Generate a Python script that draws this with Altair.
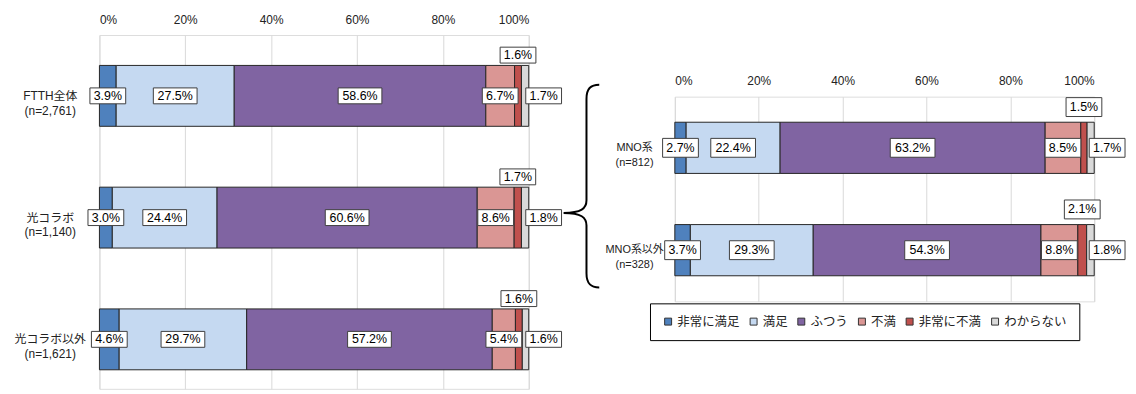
import altair as alt
import pandas as pd

FONT = "Liberation Sans, Noto Sans CJK JP"

levels = ["非常に満足", "満足", "ふつう", "不満", "非常に不満", "わからない"]
colors = ["#4F81BD", "#C5D9F1", "#8064A2", "#DA9694", "#C0504D", "#D9D9D9"]
label_pos = ["in", "in", "in", "in", "above", "right"]

left_groups = ["FTTH全体|(n=2,761)", "光コラボ|(n=1,140)", "光コラボ以外|(n=1,621)"]
left_values = [
    [3.9, 27.5, 58.6, 6.7, 1.6, 1.7],
    [3.0, 24.4, 60.6, 8.6, 1.7, 1.8],
    [4.6, 29.7, 57.2, 5.4, 1.6, 1.6],
]
right_groups = ["MNO系|(n=812)", "MNO系以外|(n=328)"]
right_values = [
    [2.7, 22.4, 63.2, 8.5, 1.5, 1.7],
    [3.7, 29.3, 54.3, 8.8, 2.1, 1.8],
]
tick_values = [0, 20, 40, 60, 80, 100]

BRACE = ("M0.176,-1 C0.09,-1 0.05,-0.96 0.05,-0.86 L0.05,0.14 "
         "C0.05,0.22 0.0,0.265 -0.176,0.265 C0.0,0.265 0.05,0.31 0.05,0.39 "
         "L0.05,0.86 C0.05,0.96 0.09,1 0.176,1")


def build(groups, values):
    rows = []
    for g, vals in zip(groups, values):
        cum = 0.0
        for i, (lvl, v) in enumerate(zip(levels, vals)):
            lab = f"{v:.1f}%"
            rows.append(dict(group=g, level=lvl, value=v, start=cum, end=cum + v,
                             mid=cum + v / 2, label=lab, nchar=len(lab),
                             pos=label_pos[i]))
            cum += v
    return pd.DataFrame(rows)


def rect_path(w, h):
    r = round(h / w, 4)
    return f"M-1,-{r}L1,-{r}L1,{r}L-1,{r}Z"


def panel(groups, values, width, height, yscale, cat_pad, cat_size, box_h,
          box_w4, box_w5, right_dx, legend=None, extra=None):
    df = build(groups, values)
    xscale = alt.Scale(domain=[0, 100], clamp=True, nice=False)
    xaxis = alt.Axis(orient="top", values=tick_values, labelExpr="datum.value + '%'",
                     grid=True, gridColor="#d9d9d9", gridWidth=1, domain=False,
                     ticks=False, labelFontSize=12, labelColor="#222",
                     labelPadding=9, labelFont=FONT)
    yaxis = alt.Axis(labelExpr="split(datum.label, '|')", labelAlign="center",
                     labelBaseline="middle", labelPadding=cat_pad, ticks=False,
                     tickSize=0, domain=False, grid=False, labelFontSize=cat_size,
                     labelLineHeight=15, labelColor="#222", labelLimit=300,
                     labelFont=FONT)
    y = alt.Y("group:N", sort=groups, scale=yscale, axis=yaxis, title=None)
    base = alt.Chart(df)
    color_kw = dict(scale=alt.Scale(domain=levels, range=colors), title=None)
    if legend is None:
        color = alt.Color("level:N", legend=None, **color_kw)
    else:
        color = alt.Color("level:N", legend=legend, **color_kw)
    bars = base.mark_bar(stroke="#262626", strokeWidth=1).encode(
        x=alt.X("start:Q", scale=xscale, axis=xaxis, title=None),
        x2="end:Q",
        y=y,
        color=color,
    )
    layers = [bars]
    specs = [("in", 4, "mid", 0, 0), ("in", 5, "mid", 0, 0),
             ("above", 4, "mid", 0, -41), ("right", 4, "end", right_dx, 0)]
    for pos, n, xf, dx, dy in specs:
        w = box_w4 if n == 4 else box_w5
        filt = (alt.datum.pos == pos) & (alt.datum.nchar == n)
        enc = dict(x=alt.X(f"{xf}:Q", scale=xscale, title=None),
                   y=alt.Y("group:N", sort=groups, title=None))
        box = base.transform_filter(filt).mark_point(
            shape=rect_path(w, box_h), size=w * w, filled=True, fill="white",
            stroke="#404040", strokeWidth=1, opacity=1, xOffset=dx, yOffset=dy,
        ).encode(**enc)
        txt = base.transform_filter(filt).mark_text(
            fontSize=12.5, font=FONT, color="black", align="center",
            baseline="middle", dx=dx, dy=dy,
        ).encode(text="label:N", **enc)
        layers += [box, txt]
    if extra is not None:
        layers.append(extra)
    return alt.layer(*layers).properties(width=width, height=height)


# curly brace drawn as a decorative symbol between the two panels
brace = alt.Chart(pd.DataFrame({"k": [0]})).mark_point(
    shape=BRACE, size=204 * 204, filled=False, stroke="black", strokeWidth=2,
    opacity=1,
).encode(x=alt.value(485), y=alt.value(152))

left = panel(
    left_groups, left_values, 432, 356,
    alt.Scale(paddingInner=0.5, paddingOuter=0.203, align=0.615),
    cat_pad=50, cat_size=12, box_h=16, box_w4=36, box_w5=44, right_dx=15,
    extra=brace,
)

legend = alt.Legend(
    orient="none", legendX=-25, legendY=208, direction="horizontal", columns=6,
    padding=12, strokeColor="black", fillColor="white", labelFontSize=12.5,
    labelFont=FONT, labelColor="#222", symbolType="square", symbolSize=49,
    symbolStrokeColor="#333", symbolStrokeWidth=1, columnPadding=7,
    labelOffset=3, title=None,
)

right = panel(
    right_groups, right_values, 422, 206,
    alt.Scale(paddingInner=0.5, paddingOuter=0.25),
    cat_pad=41, cat_size=11, box_h=19, box_w4=36, box_w5=45, right_dx=13,
    legend=legend,
)

spacer = alt.Chart(pd.DataFrame({"k": [0]})).mark_text(text="").encode(
    x=alt.value(0), y=alt.value(0)
).properties(width=422, height=39,
             view=alt.ViewConfig(stroke="transparent", strokeWidth=0))

right_col = alt.vconcat(spacer, right, spacing=0).resolve_scale(
    color="independent").resolve_legend(color="independent")

chart = alt.hconcat(left, right_col, spacing=0).resolve_scale(
    color="independent").resolve_legend(color="independent").properties(
    padding={"left": 5, "top": 3, "right": 0, "bottom": 0}
).configure_view(stroke=None).configure(font=FONT)

chart.save("out.html", embed_options={"renderer": "svg", "actions": False})
